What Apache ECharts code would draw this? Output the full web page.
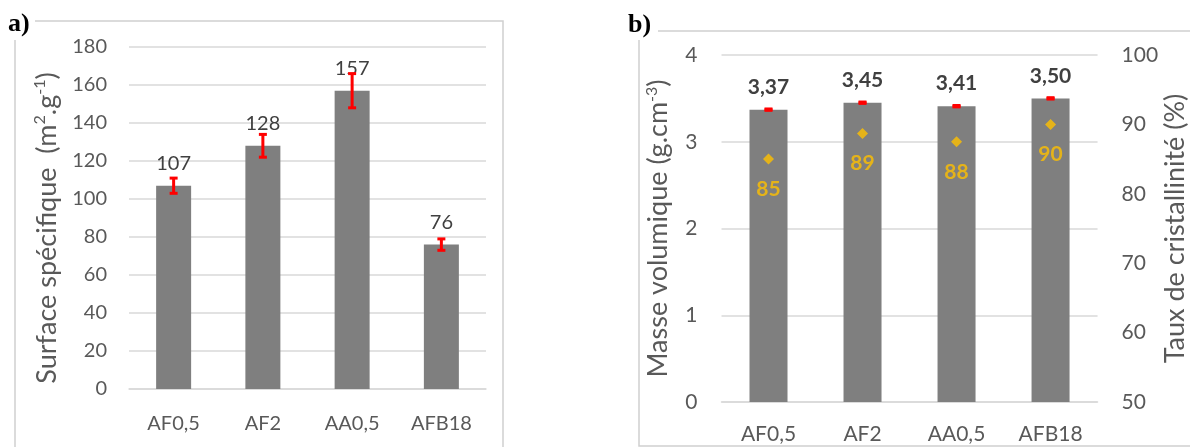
<!DOCTYPE html>
<html>
<head>
<meta charset="utf-8">
<script src="https://cdn.jsdelivr.net/npm/echarts@6/dist/echarts.min.js"></script>
<style>
html,body{margin:0;padding:0;background:#fff;}
#main{width:1190px;height:447px;}
</style>
</head>
<body>
<div id="main"></div>
<script>
// Panel a
var categories = ['AF0,5', 'AF2', 'AA0,5', 'AFB18'];
var surfaceValues = [107, 128, 157, 76];
var surfaceErrors = [4, 6, 9, 3];
var surfaceTicks = [0, 20, 40, 60, 80, 100, 120, 140, 160, 180];
// Panel b
var densityValues = [3.37, 3.45, 3.41, 3.50];
var densityErrors = [0.005, 0.005, 0.005, 0.005];
var crystallinity = [85, 88.7, 87.5, 90];
var densityTicks = [0, 1, 2, 3, 4];
var crystTicks = [50, 60, 70, 80, 90, 100];

var FONT = 'Lato';
var TXT = '#595959';
var GRID = '#D9D9D9';
var BORDER = '#D0D0D0';
var BAR = '#7F7F7F';

function errSeries(xi, yi, vals, errs, capHalf, lw) {
  return {
    type: 'custom', xAxisIndex: xi, yAxisIndex: yi, z: 5,
    data: vals.map(function (v, i) { return [i, v - errs[i], v + errs[i]]; }),
    renderItem: function (params, api) {
      var lo = api.coord([api.value(0), api.value(1)]);
      var hi = api.coord([api.value(0), api.value(2)]);
      var x = lo[0];
      var st = { stroke: '#FF0000', lineWidth: lw };
      return { type: 'group', children: [
        { type: 'line', shape: { x1: x, y1: lo[1], x2: x, y2: hi[1] }, style: st },
        { type: 'line', shape: { x1: x - capHalf, y1: lo[1], x2: x + capHalf, y2: lo[1] }, style: st },
        { type: 'line', shape: { x1: x - capHalf, y1: hi[1], x2: x + capHalf, y2: hi[1] }, style: st }
      ]};
    }
  };
}

var nameRich = {
  sup: { fontSize: 16, verticalAlign: 'top', lineHeight: 16, color: TXT, fontFamily: FONT }
};

var chart = echarts.init(document.getElementById('main'), null, { renderer: 'canvas' });
chart.setOption({
  animation: false,
  backgroundColor: '#fff',
  textStyle: { fontFamily: FONT },
  graphic: [
    { type: 'polyline', shape: { points: [[15, 447], [15, 21], [503, 21], [503, 447]] }, style: { fill: null, stroke: BORDER, lineWidth: 1.5 }, z: -1 },
    { type: 'polyline', shape: { points: [[1190, 446], [639, 446], [639, 31], [1190, 31]] }, style: { fill: null, stroke: BORDER, lineWidth: 1.5 }, z: -1 },
    { type: 'rect', shape: { x: 3, y: 10, width: 32, height: 30 }, style: { fill: '#fff' }, z: 0 },
    { type: 'rect', shape: { x: 624, y: 10, width: 34, height: 30 }, style: { fill: '#fff' }, z: 0 },
    { type: 'text', left: 8, top: 11, z: 1, style: { text: 'a)', font: 'bold 26px "Liberation Serif"', fill: '#000' } },
    { type: 'text', left: 628, top: 12, z: 1, style: { text: 'b)', font: 'bold 26px "Liberation Serif"', fill: '#000' } }
  ],
  grid: [
    { left: 129, right: 704, top: 47, bottom: 58 },
    { left: 721.5, right: 87, top: 55, bottom: 45 }
  ],
  xAxis: [
    { type: 'category', gridIndex: 0, data: categories,
      axisLine: { lineStyle: { color: GRID, width: 1.5 } }, axisTick: { show: false },
      axisLabel: { color: TXT, fontSize: 20, fontFamily: FONT, margin: 25 } },
    { type: 'category', gridIndex: 1, data: categories,
      axisLine: { lineStyle: { color: GRID, width: 1.5 } }, axisTick: { show: false },
      axisLabel: { color: TXT, fontSize: 21, fontFamily: FONT, margin: 22 } }
  ],
  yAxis: [
    { type: 'value', gridIndex: 0, min: surfaceTicks[0], max: surfaceTicks[surfaceTicks.length - 1], interval: 20,
      name: 'Surface spécifique  (m{sup|2}.g{sup|-1})', nameLocation: 'middle', nameGap: 67, nameRotate: 90,
      nameTextStyle: { color: TXT, fontSize: 27, fontFamily: FONT, lineHeight: 30, padding: [0, 20, 0, 0], rich: nameRich },
      axisLine: { show: false }, axisTick: { show: false },
      axisLabel: { color: TXT, fontSize: 20, fontFamily: FONT, margin: 22 },
      splitLine: { lineStyle: { color: GRID, width: 1.5 } } },
    { type: 'value', gridIndex: 1, min: densityTicks[0], max: densityTicks[densityTicks.length - 1], interval: 1,
      name: 'Masse volumique (g.cm{sup|-3})', nameLocation: 'middle', nameGap: 48, nameRotate: 90,
      nameTextStyle: { color: TXT, fontSize: 27, fontFamily: FONT, lineHeight: 30, rich: nameRich },
      axisLine: { show: false }, axisTick: { show: false },
      axisLabel: { color: TXT, fontSize: 21, fontFamily: FONT, margin: 24 },
      splitLine: { lineStyle: { color: GRID, width: 1.5 } } },
    { type: 'value', gridIndex: 1, position: 'right', min: crystTicks[0], max: crystTicks[crystTicks.length - 1], interval: 10,
      name: 'Taux de cristallinité (%)', nameLocation: 'middle', nameGap: 61, nameRotate: 90,
      nameTextStyle: { color: TXT, fontSize: 27, fontFamily: FONT },
      axisLine: { show: false }, axisTick: { show: false },
      axisLabel: { color: TXT, fontSize: 21, fontFamily: FONT, margin: 24 },
      splitLine: { show: false } }
  ],
  series: [
    { type: 'bar', xAxisIndex: 0, yAxisIndex: 0, data: surfaceValues, barWidth: 35,
      itemStyle: { color: BAR },
      label: { show: true, position: 'top', distance: 12, color: '#404040', fontSize: 20, fontFamily: FONT } },
    errSeries(0, 0, surfaceValues, surfaceErrors, 4, 3),
    { type: 'bar', xAxisIndex: 1, yAxisIndex: 1, data: densityValues, barWidth: 38,
      itemStyle: { color: BAR },
      label: { show: true, position: 'top', distance: 12, color: '#404040', fontSize: 21, fontWeight: 'bold', fontFamily: FONT,
        formatter: function (p) { return p.value.toFixed(2).replace('.', ','); } } },
    errSeries(1, 1, densityValues, densityErrors, 4, 3.5),
    { type: 'scatter', xAxisIndex: 1, yAxisIndex: 2, data: crystallinity, symbol: 'diamond', symbolSize: 11, z: 6,
      itemStyle: { color: '#FFC000' },
      label: { show: true, position: 'bottom', distance: 14, color: '#FFC000', fontSize: 21, fontWeight: 'bold', fontFamily: FONT,
        formatter: function (p) { return Math.round(p.value); } } }
  ]
});
</script>
</body>
</html>
